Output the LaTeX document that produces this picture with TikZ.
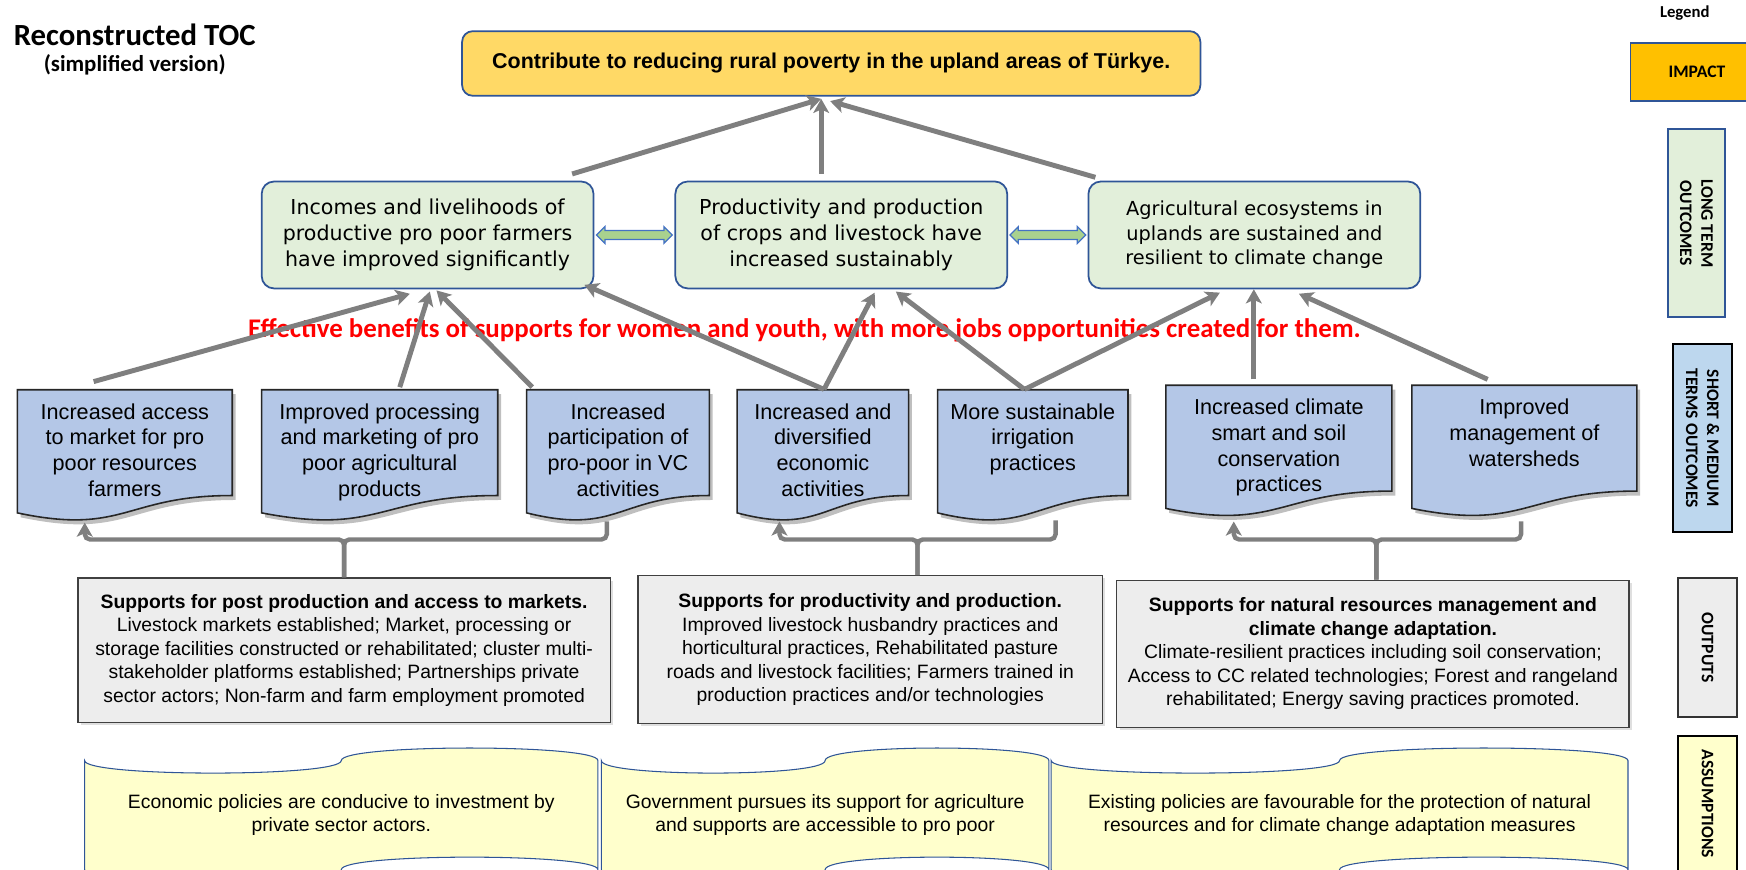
\documentclass[tikz,border=0pt]{standalone}
\usepackage{fontspec}
\setmainfont{Liberation Sans}
\newfontfamily\calibrifont{Carlito}
\newfontfamily\verdanafont{DejaVu Sans}
\usetikzlibrary{arrows.meta,calc,shapes.arrows,shadows}
\newcommand{\upx}{0.02227cm}
\definecolor{goldfill}{HTML}{FFD966}
\definecolor{legendgold}{HTML}{FFC000}
\definecolor{boxblue}{HTML}{2F5597}
\definecolor{ltgreen}{HTML}{E2EFDA}
\definecolor{docblue}{HTML}{B4C7E7}
\definecolor{legblue}{HTML}{BDD7EE}
\definecolor{outgray}{HTML}{EDEDED}
\definecolor{arrowgray}{HTML}{7F7F7F}
\definecolor{dblgreen}{HTML}{A9D18E}
\definecolor{dblblue}{HTML}{4472C4}
\definecolor{tapeyellow}{HTML}{FFFFCC}
\newcommand{\docbox}[5]{%
    \fill[black!25] (#2+3,#4+4) -- (#3+3,#4+4) -- (#3+3,#4+99)
        .. controls ({(#2+#3)/2+3},#4+99) and ({(#2+#3)/2+3},#4+135) .. (#2+3,#4+114.6) -- cycle;
    \filldraw[docline] (#2,#4) -- (#3,#4) -- (#3,#4+95)
        .. controls ({(#2+#3)/2},#4+95) and ({(#2+#3)/2},#4+131) .. (#2,#4+110.6) -- cycle;
    \node[docframe, minimum width={(#3-#2)*\upx}] (#1) at ({(#2+#3)/2},#4+47.5) {};
    \node[doctext] (#1t) at ($(#1.north)+(0,12.5)$) {#5};
}
\newcommand{\tapebox}[5]{%
    \filldraw[tapeline] (#2,#4) .. controls (#2,#4+15) and ({(#2+#3)/2},#4+15) .. ({(#2+#3)/2},#4)
        .. controls ({(#2+#3)/2},#4-15) and (#3,#4-15) .. (#3,#4) -- (#3,#4+98)
        .. controls (#3,#4+83) and ({(#2+#3)/2},#4+83) .. ({(#2+#3)/2},#4+98)
        .. controls ({(#2+#3)/2},#4+113) and (#2,#4+113) .. (#2,#4+98) -- cycle;
    \node[tapetext] (#1) at ({(#2+#3)/2},#4+49) {#5};
}
\begin{document}
\begin{tikzpicture}[x=\upx, y=-\upx,
    impactbox/.style={draw=boxblue, fill=goldfill, line width=1pt, rounded corners=6pt, minimum width=663*\upx, minimum height=58*\upx, font=\bfseries\fontsize{12.2}{15}\selectfont},
    ltbox/.style={draw=boxblue, fill=ltgreen, line width=1pt, rounded corners=7pt, minimum width=298*\upx, minimum height=96*\upx, align=center},
    docline/.style={draw=black!85, fill=docblue, line width=0.9pt},
    docframe/.style={inner sep=0pt, minimum height=95*\upx},
    doctext/.style={inner sep=0pt, anchor=north, align=center, font=\fontsize{12.3}{14.6}\selectfont},
    outbox/.style={draw=black!75, fill=outgray, line width=0.7pt, inner sep=0pt, align=center, font=\fontsize{11}{13.3}\selectfont, drop shadow={shadow xshift=1.5pt, shadow yshift=-1.5pt, fill=black!25}},
    tapeline/.style={draw=boxblue, fill=tapeyellow, line width=0.6pt},
    tapetext/.style={align=center, font=\fontsize{11}{12.7}\selectfont},
    legbox/.style={inner sep=0pt, align=center, font=\calibrifont\bfseries\fontsize{10}{12}\selectfont},
    upar/.style={draw=arrowgray, line width=2.8pt, -{Stealth[length=8pt, width=9pt, inset=2pt]}},
    brk/.style={draw=arrowgray, line width=2.5pt, rounded corners=3pt},
    dblarrow/.style={double arrow, draw=dblblue, fill=dblgreen, line width=0.7pt, inner sep=2.2pt, double arrow head extend=2.2pt, minimum height=68*\upx}]
    \useasboundingbox (0,0) rectangle (1568,781);
    \node[font=\calibrifont\bfseries\fontsize{17.5}{20}\selectfont] (title) at (121,31) {Reconstructed TOC};
    \node[font=\calibrifont\bfseries\fontsize{13}{15}\selectfont] (subtitle) at (121,58) {(simplified version)};
    \node[legbox, font=\calibrifont\bfseries\fontsize{9.5}{11}\selectfont] (legend) at (1513,12) {Legend};
    \node[legbox, draw=boxblue, fill=legendgold, line width=0.8pt, minimum width=120*\upx, minimum height=52*\upx] (legimpact) at (1524,64.7) {IMPACT};
    \node[legbox, draw=boxblue, fill=ltgreen, line width=1.2pt, rotate=-90, minimum width=169*\upx, minimum height=51*\upx] (leglong) at (1523.5,200.5) {LONG TERM\\OUTCOMES};
    \node[legbox, draw=black, fill=legblue, line width=1.2pt, rotate=-90, minimum width=169*\upx, minimum height=53*\upx] (legshort) at (1529,393.5) {SHORT \& MEDIUM\\TERMS OUTCOMES};
    \node[legbox, draw=black!80, fill=outgray, line width=0.8pt, rotate=-90, minimum width=125*\upx, minimum height=53*\upx] (legout) at (1533.5,581.5) {OUTPUTS};
    \node[legbox, draw=black, fill=tapeyellow, line width=0.8pt, rotate=-90, minimum width=122*\upx, minimum height=53*\upx] (legass) at (1533.5,722) {ASSUMPTIONS};

    \node[impactbox] (imp) at (746.5,57) {Contribute to reducing rural poverty in the upland areas of Türkye.};
    \node[ltbox, font=\verdanafont\fontsize{11.7}{14.6}\selectfont] (lt1) at (384,211) {Incomes and livelihoods of\\productive pro poor farmers\\have improved significantly};
    \node[ltbox, font=\verdanafont\fontsize{11.7}{14.6}\selectfont] (lt2) at (755.5,211) {Productivity and production\\of crops and livestock have\\increased sustainably};
    \node[ltbox, font=\verdanafont\fontsize{11}{14}\selectfont] (lt3) at (1126.5,211) {Agricultural ecosystems in\\uplands are sustained and\\resilient to climate change};
    \node[dblarrow] (dbl1) at ($(lt1.east)!0.5!(lt2.west)$) {};
    \node[dblarrow] (dbl2) at ($(lt2.east)!0.5!(lt3.west)$) {};

    \docbox{d1}{15.6}{208.6}{350}{Increased access\\to market for pro\\poor resources\\farmers}
    \docbox{d2}{235}{447}{350}{Improved processing\\and marketing of pro\\poor agricultural\\products}
    \docbox{d3}{473}{637}{350}{Increased\\participation of\\pro-poor in VC\\activities}
    \docbox{d4}{662}{816}{350}{Increased and\\diversified\\economic\\activities}
    \docbox{d5}{842}{1013}{350}{More sustainable\\irrigation\\practices}
    \docbox{d6}{1047}{1250}{346}{Increased climate\\smart and soil\\conservation\\practices}
    \docbox{d7}{1268}{1470}{346}{Improved\\management of\\watersheds}

    \node[font=\calibrifont\bfseries\fontsize{15.3}{17}\selectfont, text=red] (note) at (722.5,297) {Effective benefits of supports for women and youth, with more jobs opportunities created for them.};

    \draw[upar] ($(lt1.north east)+(-20,-6)$) -- ($(imp.south)+(-9,2)$);
    \draw[upar] ($(lt2.north)+(-18,-6)$) -- ($(imp.south)+(-9,2)$);
    \draw[upar] ($(lt3.north west)+(7,-3)$) -- ($(imp.south)+(-1,4)$);
    \draw[upar] ($(d1.north)+(-28,-7)$) -- ($(lt1.south)+(-16,4)$);
    \draw[upar] ($(d2.north)+(18,-2)$) -- ($(lt1.south)+(2,2)$);
    \draw[upar] ($(d3.north)+(-77,-2)$) -- ($(lt1.south)+(8,1)$);
    \draw[upar] ($(d4.north)+(1,0)$) -- ($(lt1.south east)+(-9,-4)$);
    \draw[upar] ($(d4.north)+(1,0)$) -- ($(lt2.south)+(30,3)$);
    \draw[upar] ($(d5.north)+(-7.5,0)$) -- ($(lt2.south)+(49,2)$);
    \draw[upar] ($(d5.north)+(-7.5,0)$) -- ($(lt3.south)+(-31,3)$);
    \draw[upar] ($(d6.north)+(-22.5,-5)$) -- ($(lt3.south)+(-0.5,0)$);
    \draw[upar] ($(d7.north)+(-33,-5)$) -- ($(lt3.south)+(40,4)$);

    \node[outbox, minimum width=478*\upx, minimum height=130*\upx] (o1) at (309,584) {\textbf{Supports for post production and access to markets.}\\Livestock markets established; Market, processing or\\storage facilities constructed or rehabilitated; cluster multi-\\stakeholder platforms established; Partnerships private\\sector actors; Non-farm and farm employment promoted};
    \node[outbox, minimum width=417*\upx, minimum height=133*\upx] (o2) at (781.5,583.5) {\textbf{Supports for productivity and production.}\\Improved livestock husbandry practices and\\horticultural practices, Rehabilitated pasture\\roads and livestock facilities; Farmers trained in\\production practices and/or technologies};
    \node[outbox, minimum width=460*\upx, minimum height=132*\upx] (o3) at (1233,587) {\textbf{Supports for natural resources management and}\\\textbf{climate change adaptation.}\\Climate-resilient practices including soil conservation;\\Access to CC related technologies; Forest and rangeland\\rehabilitated; Energy saving practices promoted.};

    \draw[brk, -{Stealth[length=8pt, width=9pt, inset=2pt]}] (o1.north) -- ++(0,-34) -| ($(d1.south)+(-36,24)$);
    \draw[brk] (o1.north) -- ++(0,-34) -| ($(d3.south)+(-10,23)$);
    \draw[brk, -{Stealth[length=8pt, width=9pt, inset=2pt]}] ($(o2.north)+(42.5,0)$) -- ++(0,-32) -| ($(d4.south)+(-39,23)$);
    \draw[brk] ($(o2.north)+(42.5,0)$) -- ++(0,-32) -| ($(d5.south)+(20.5,22)$);
    \draw[brk, -{Stealth[length=8pt, width=9pt, inset=2pt]}] ($(o3.north)+(3,0)$) -- ++(0,-36) -| ($(d6.south)+(-40.5,27)$);
    \draw[brk] ($(o3.north)+(3,0)$) -- ++(0,-36) -| ($(d7.south)+(-3,27)$);

    \tapebox{a1}{76}{537}{683}{Economic policies are conducive to investment by\\private sector actors.}
    \tapebox{a2}{540}{942}{683}{Government pursues its support for agriculture\\and supports are accessible to pro poor}
    \tapebox{a3}{944}{1462}{683}{Existing policies are favourable for the protection of natural\\resources and for climate change adaptation measures}
\end{tikzpicture}
\end{document}
